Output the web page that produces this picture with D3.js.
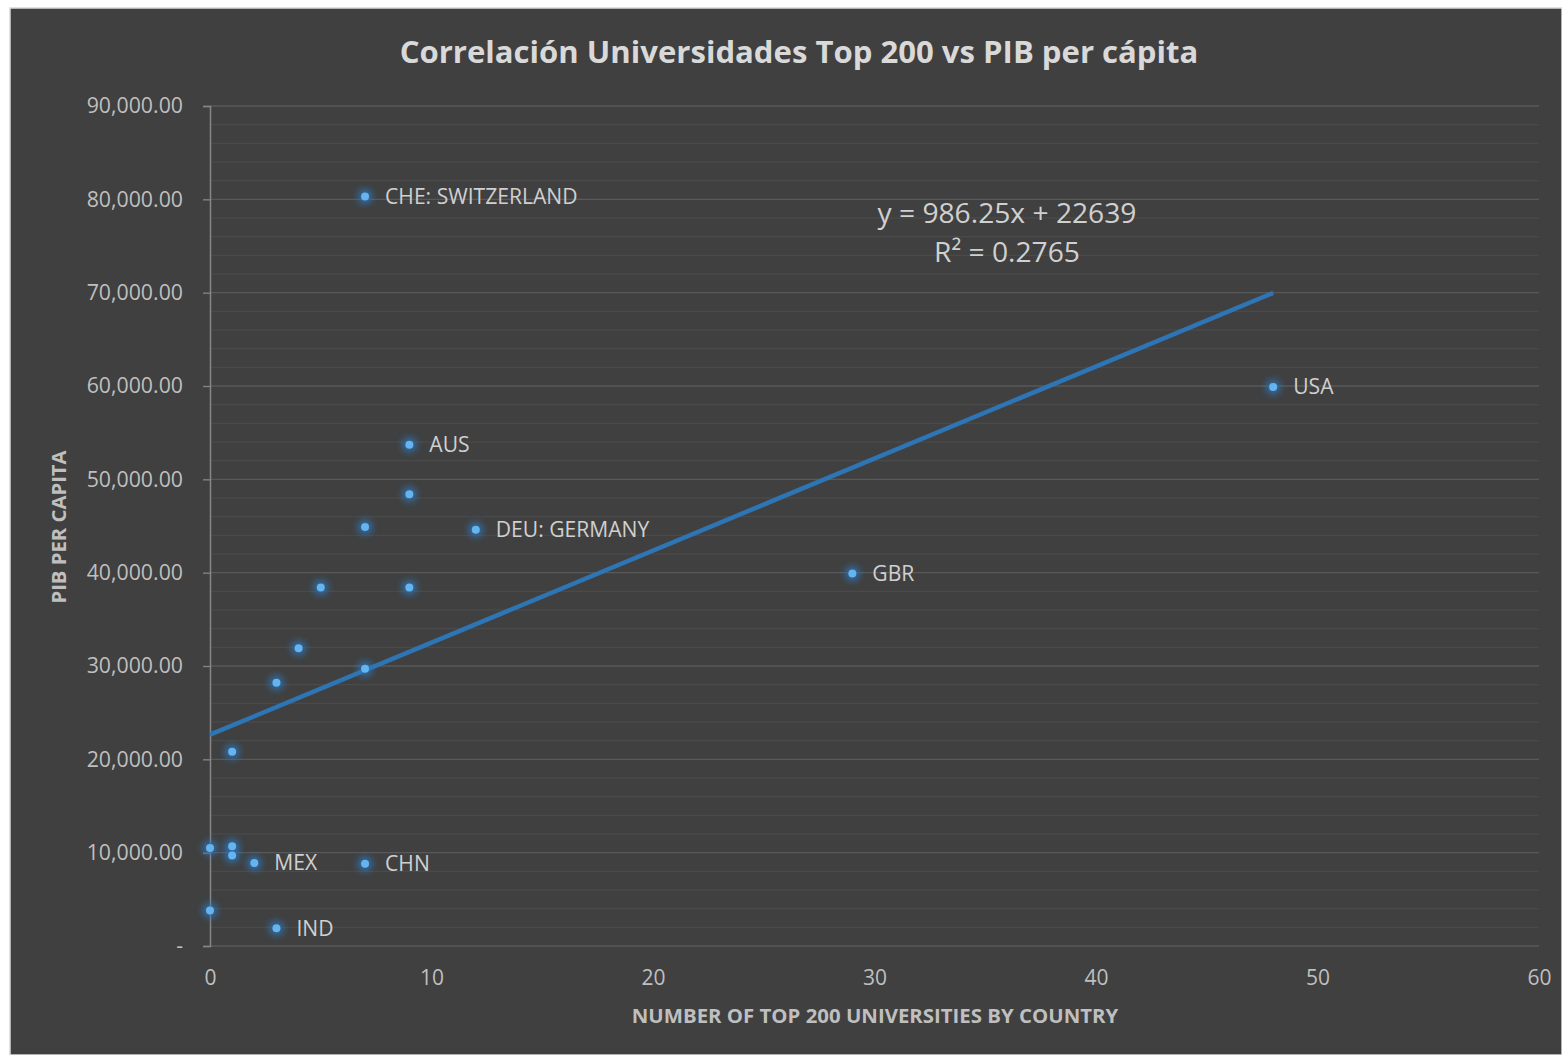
<!DOCTYPE html>
<html>
<head>
<meta charset="utf-8">
<script src="https://cdn.jsdelivr.net/npm/d3@7"></script>
<style>
  html, body { margin: 0; padding: 0; background: #ffffff; }
  svg { display: block; }
  text { font-family: "Open Sans", "Noto Sans", sans-serif; }
</style>
</head>
<body>
<svg id="chart" width="1562" height="1055"></svg>
<script>
// ---- data ----
const universities = [7, 48, 9, 9, 7, 12, 29, 5, 9, 4, 7, 3, 1, 0, 1, 1, 2, 7, 0, 3];
const gdpPerCapita = [80300, 59900, 53700, 48400, 44900, 44600, 39900, 38400, 38400, 31900, 29700, 28200, 20800, 10500, 10700, 9700, 8900, 8800, 3800, 1900];
const pointLabels = ["CHE: SWITZERLAND", "USA", "AUS", "", "", "DEU: GERMANY", "GBR", "", "", "", "", "", "", "", "", "", "MEX", "CHN", "", "IND"];
const xTicks = [0, 10, 20, 30, 40, 50, 60];
const yTicks = [0, 10000, 20000, 30000, 40000, 50000, 60000, 70000, 80000, 90000];
const trendSlope = 986.25;
const trendIntercept = 22639;
const trendR2 = 0.2765;
const titleText = "Correlación Universidades Top 200 vs PIB per cápita";
const xTitle = "NUMBER OF TOP 200 UNIVERSITIES BY COUNTRY";
const yTitle = "PIB PER CAPITA";

const svg = d3.select("#chart");
const W = 1562, H = 1055;

// chart background
svg.append("rect").attr("x", 10).attr("y", 8).attr("width", W - 10).attr("height", H - 8)
  .attr("fill", "#404040").attr("stroke", "#d9d9d9").attr("stroke-width", 1.5);

const x = d3.scaleLinear().domain([0, 60]).range([210, 1539]);
const y = d3.scaleLinear().domain([0, 90000]).range([946, 106]);

const defs = svg.append("defs");
const f = defs.append("filter").attr("id", "glow").attr("x", "-100%").attr("y", "-100%").attr("width", "300%").attr("height", "300%");
f.append("feGaussianBlur").attr("stdDeviation", 3.5);

// minor gridlines
const minor = d3.range(0, 90001, 2000).filter(v => v % 10000 !== 0);
svg.append("g").selectAll("line").data(minor).join("line")
  .attr("x1", x(0)).attr("x2", x(60)).attr("y1", d => y(d)).attr("y2", d => y(d))
  .attr("stroke", "#4c4c4c").attr("stroke-width", 1);

// major gridlines
svg.append("g").selectAll("line").data(yTicks).join("line")
  .attr("x1", x(0)).attr("x2", x(60)).attr("y1", d => y(d)).attr("y2", d => y(d))
  .attr("stroke", "#595959").attr("stroke-width", 1.3);

// y axis
const yAxis = d3.axisLeft(y).tickValues(yTicks).tickSize(7).tickPadding(20)
  .tickFormat(d => d === 0 ? "-" : d3.format(",.2f")(d));
const gy = svg.append("g").attr("transform", `translate(${x(0)},0)`).call(yAxis);
gy.select(".domain").attr("stroke", "#868686").attr("stroke-width", 1.5);
gy.selectAll(".tick line").attr("stroke", "#868686").attr("stroke-width", 1.3);
gy.selectAll(".tick text").attr("fill", "#bfbfbf").attr("font-size", 21.3)
  .attr("font-family", "'Open Sans', sans-serif");

// x axis (labels only, line is bottom gridline)
const xAxis = d3.axisBottom(x).tickValues(xTicks).tickSize(0).tickPadding(24);
const gx = svg.append("g").attr("transform", `translate(0,${y(0)})`).call(xAxis);
gx.select(".domain").remove();
gx.selectAll(".tick text").attr("fill", "#bfbfbf").attr("font-size", 21)
  .attr("font-family", "'Open Sans', sans-serif");

// trendline
const xMax = d3.max(universities);
svg.append("line")
  .attr("x1", x(0)).attr("y1", y(trendIntercept))
  .attr("x2", x(xMax)).attr("y2", y(trendSlope * xMax + trendIntercept))
  .attr("stroke", "#2e75b6").attr("stroke-width", 4.5);

// points
const pts = universities.map((u, i) => ({ u, g: gdpPerCapita[i], label: pointLabels[i] }));
svg.append("g").selectAll("circle").data(pts).join("circle")
  .attr("cx", d => x(d.u)).attr("cy", d => y(d.g)).attr("r", 7.5)
  .attr("fill", "#2e75b6").attr("opacity", 0.85).attr("filter", "url(#glow)");
svg.append("g").selectAll("circle").data(pts).join("circle")
  .attr("cx", d => x(d.u)).attr("cy", d => y(d.g)).attr("r", 4)
  .attr("fill", "#63b4f0");

// point labels
svg.append("g").selectAll("text").data(pts.filter(d => d.label)).join("text")
  .attr("x", d => x(d.u) + 20).attr("y", d => y(d.g))
  .attr("dy", "0.35em").attr("fill", "#d0d0d0").attr("font-size", 21.1)
  .text(d => d.label);

// title
svg.append("text").attr("x", 799).attr("y", 52).attr("dy", "0.35em")
  .attr("text-anchor", "middle").attr("font-weight", "bold").attr("font-size", 31.1)
  .attr("fill", "#d9d9d9").text(titleText);

// trend equation
const eqX = 1007;
svg.append("text").attr("x", eqX).attr("y", 213).attr("dy", "0.35em")
  .attr("text-anchor", "middle").attr("font-size", 28.2).attr("fill", "#d0d0d0")
  .text(`y = ${trendSlope}x + ${trendIntercept}`);
svg.append("text").attr("x", eqX).attr("y", 252).attr("dy", "0.35em")
  .attr("text-anchor", "middle").attr("font-size", 28.2).attr("fill", "#d0d0d0")
  .text(`R² = ${trendR2}`);

// axis titles
svg.append("text").attr("x", 875).attr("y", 1016).attr("dy", "0.35em")
  .attr("text-anchor", "middle").attr("font-weight", "bold").attr("font-size", 20.4)
  .attr("fill", "#bfbfbf").text(xTitle);
svg.append("text").attr("transform", "translate(59,527) rotate(-90)").attr("dy", "0.35em")
  .attr("text-anchor", "middle").attr("font-weight", "bold").attr("font-size", 20.3)
  .attr("fill", "#bfbfbf").text(yTitle);
</script>
</body>
</html>
